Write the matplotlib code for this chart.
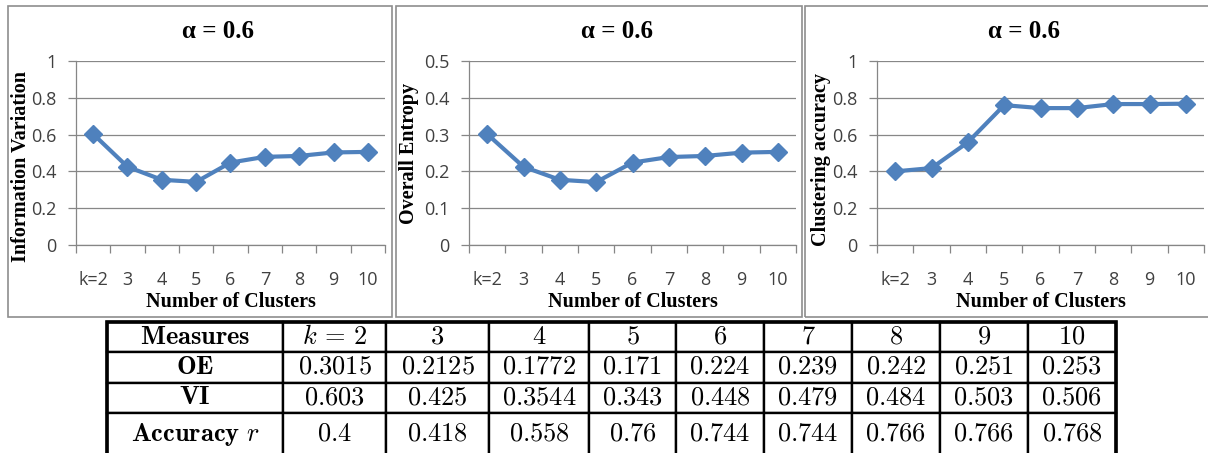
import numpy as np
import matplotlib.pyplot as plt
from matplotlib.patches import Rectangle
from matplotlib.ticker import FormatStrFormatter

plt.rcParams['font.family'] = ['Open Sans', 'DejaVu Sans']
plt.rcParams['mathtext.fontset'] = 'cm'

# data
clusters = ['k=2', '3', '4', '5', '6', '7', '8', '9', '10']
oe = [0.3015, 0.2125, 0.1772, 0.171, 0.224, 0.239, 0.242, 0.251, 0.253]
vi = [0.603, 0.425, 0.3544, 0.343, 0.448, 0.479, 0.484, 0.503, 0.506]
acc = [0.4, 0.418, 0.558, 0.76, 0.744, 0.744, 0.766, 0.766, 0.768]
ylabels = ['Information Variation', 'Overall Entropy', 'Clustering accuracy']
title = 'α = 0.6'
row_names = [r'$\mathbf{OE}$', r'$\mathbf{VI}$', r'$\mathbf{Accuracy}\ r$']

W, H = 1208, 453
fig = plt.figure(figsize=(W / 100, H / 100), dpi=100)


def fbox(l, t, r, b):
    return [l / W, 1 - b / H, (r - l) / W, (b - t) / H]


# pixel layout of the three chart panels
panels = [
    dict(border=(8, 6, 392, 317), area=(76, 61, 385, 245), tx=218, ylab=(21, 166)),
    dict(border=(396, 6, 802, 317), area=(469, 61, 796, 245), tx=617, ylab=(409, 153)),
    dict(border=(805, 6, 1214, 317), area=(877, 61, 1204, 245), tx=1024, ylab=(821, 159)),
]
series = [vi, oe, acc]
ymaxes = [1.0, 0.5, 1.0]
steps = [0.2, 0.1, 0.2]

grey = '#868686'
blue = '#4F81BD'
x = np.arange(len(clusters))

for p, vals, ymax, step, ylab in zip(panels, series, ymaxes, steps, ylabels):
    l, t, r, b = p['border']
    fig.patches.append(Rectangle((l / W, 1 - b / H), (r - l) / W, (b - t) / H,
                                 transform=fig.transFigure, fill=False,
                                 edgecolor='#8e8e8e', lw=1.2))
    ax = fig.add_axes(fbox(*p['area']))
    ax.plot(x, vals, color=blue, lw=3.0, marker='D', ms=9, zorder=3, clip_on=False)
    ax.set_xlim(-0.5, len(clusters) - 0.5)
    ax.set_ylim(0, ymax)
    ax.set_yticks(np.arange(0, ymax + step / 2, step))
    ax.yaxis.set_major_formatter(FormatStrFormatter('%g'))
    ax.grid(axis='y', color='#878787', lw=0.9)
    ax.set_axisbelow(True)
    for s in ['top', 'right']:
        ax.spines[s].set_visible(False)
    for s in ['left', 'bottom']:
        ax.spines[s].set_color(grey)
        ax.spines[s].set_linewidth(0.9)
    ax.set_xticks(x)
    ax.set_xticklabels(clusters)
    ax.set_xticks(np.arange(-0.5, len(clusters), 1), minor=True)
    ax.tick_params(axis='y', length=6, width=0.9, color=grey, pad=8,
                   labelsize=13, labelcolor='#404040')
    ax.tick_params(axis='x', which='major', length=0, pad=19,
                   labelsize=13, labelcolor='#404040')
    ax.tick_params(axis='x', which='minor', length=6, width=0.9, color=grey)

    al, at, ar, ab = p['area']
    fig.text(p['tx'] / W, 1 - 32 / H, title, ha='center', va='center',
             fontsize=18, weight='bold', family='Liberation Serif')
    fig.text((al + ar) / 2 / W, 1 - 302 / H, 'Number of Clusters', ha='center',
             va='center', fontsize=14.5, weight='bold', family='Liberation Serif')
    fig.text(p['ylab'][0] / W, 1 - p['ylab'][1] / H, ylab, rotation=90,
             ha='center', va='center', fontsize=14.5, weight='bold',
             family='Liberation Serif')

# table
header = [r'$\mathbf{Measures}$'] + ['$%s$' % c.replace('=', r'\,=\,') for c in clusters]
cells = [header]
for name, vals in zip(row_names, [oe, vi, acc]):
    cells.append([name] + ['$%s$' % v for v in vals])

col_w = [176, 103, 103, 100, 87, 88, 88, 88, 88, 88]
row_h = [30, 31, 30, 42]

ax_t = fig.add_axes(fbox(107, 322, 1116, 455))
ax_t.axis('off')
tbl = ax_t.table(cellText=cells, colWidths=col_w, cellLoc='center', bbox=[0, 0, 1, 1])
tbl.auto_set_font_size(False)
tbl.set_fontsize(19)
for (ri, ci), cell in tbl.get_celld().items():
    cell.set_linewidth(1.7)
    cell.set_height(row_h[ri])
    if ri == len(row_h) - 1:
        cell.visible_edges = 'LRT'
ax_t.add_patch(Rectangle((0, 0), 1, 1, transform=ax_t.transAxes, fill=False,
                         lw=2.6, edgecolor='black', clip_on=False))

fig.savefig('out.png', dpi=100)
